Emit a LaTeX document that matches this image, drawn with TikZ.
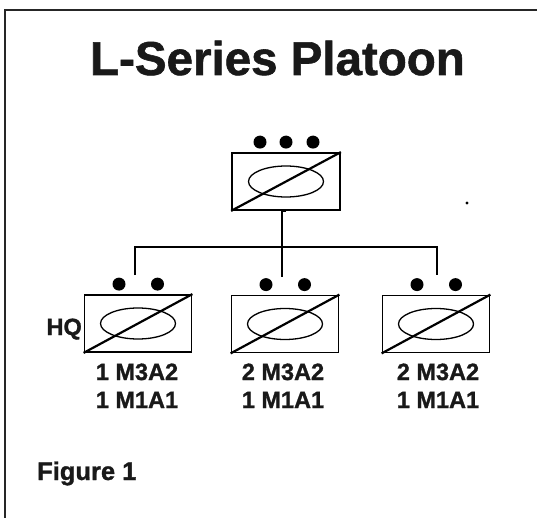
\documentclass[tikz,border=0pt]{standalone}
\usepackage{fontspec}
\setmainfont{Liberation Sans}[BoldFeatures={FakeBold=1.2}]
\begin{document}
\begin{tikzpicture}[x=1pt,y=-1pt,
  unitbox/.style={draw,line width=1.8pt,minimum width=107pt,minimum height=57pt,inner sep=0pt},
  wire/.style={line width=1.6pt},
  label/.style={font=\bfseries\fontsize{23.5}{27}\selectfont,text=black!90,anchor=base,inner sep=0pt},
  unitdot/.style={fill=black}]
\useasboundingbox (0,0) rectangle (537,518);
% page frame
\draw[line width=1.8pt,black!85] (5,518) -- (5,10) -- (537,10);

% title
\node[font=\bfseries\fontsize{47.5}{52}\selectfont,text=black!90,anchor=base,inner sep=0pt] (title) at (277.5,75) {L-Series Platoon};

% unit symbols
\node[unitbox,minimum width=108pt] (top) at (286,181.5) {};
\node[unitbox] (hq) at (138,323.5) {};
\node[unitbox] (mid) at (285,324) {};
\node[unitbox] (rgt) at (436,324) {};

\foreach \u in {top,hq,mid,rgt}{
  \draw[line width=1.3pt] (\u.center) ellipse [x radius=37.5, y radius=15.5];
  \draw[line width=2.2pt] (\u.south west) -- (\u.north east);
}

% size dots
\foreach \dx in {-26,0,27}
  \fill[unitdot] ([shift={(\dx,-10)}]top.north) circle (6.5);
\foreach \u in {hq,mid,rgt}
  \foreach \dx in {-19,19.5}
    \fill[unitdot] ([shift={(\dx,-10)}]\u.north) circle (6.5);

% connectors
\coordinate (bar) at (0,247);
\coordinate (lend) at (135,275);
\coordinate (mend) at (282,277);
\coordinate (rend) at (437,275);
\draw[wire] (top.south) -- (top.south -| mend) -- (mend);
\draw[wire] (lend) -- (lend |- bar) -- (rend |- bar) -- (rend);

% labels
\node[label,anchor=base east] (hqlab) at (82,335) {HQ};
\node[label] (hq1) at (137,380) {1 M3A2};
\node[label] (hq2) at (137,408) {1 M1A1};
\node[label] (mid1) at (283,380) {2 M3A2};
\node[label] (mid2) at (283,408) {1 M1A1};
\node[label] (rgt1) at (438,380) {2 M3A2};
\node[label] (rgt2) at (438,408) {1 M1A1};

\node[font=\bfseries\fontsize{25.5}{29}\selectfont,text=black!90,anchor=base west,inner sep=0pt] (fig) at (37,480) {Figure 1};

% stray mark
\fill (467,203) circle (1.6);
\end{tikzpicture}
\end{document}
